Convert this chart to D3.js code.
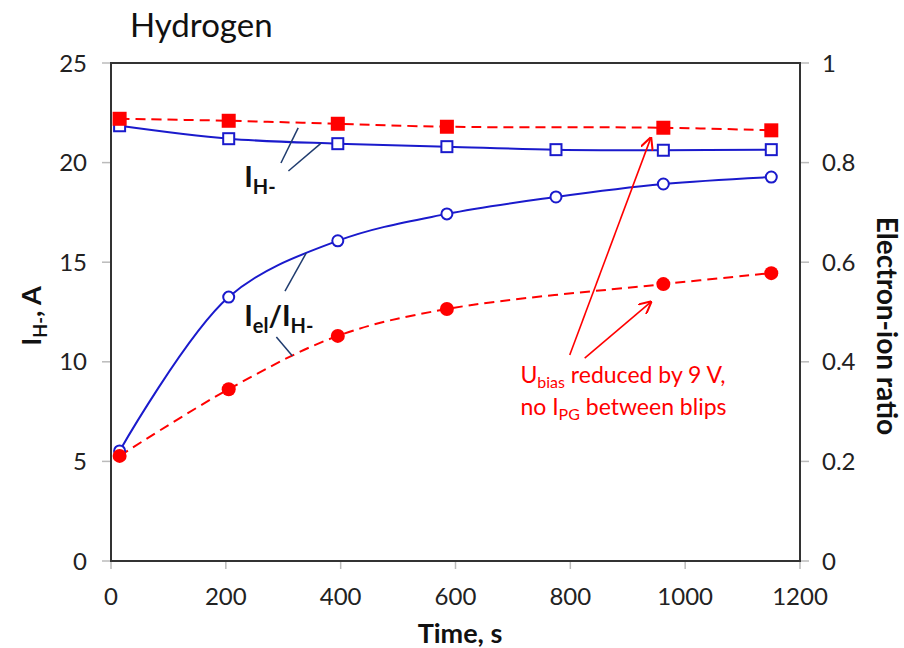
<!DOCTYPE html>
<html>
<head>
<meta charset="utf-8">
<script src="https://cdn.jsdelivr.net/npm/d3@7"></script>
<style>
  body { margin: 0; background: #fff; }
  text { font-family: Lato, "Open Sans", sans-serif; }
</style>
</head>
<body>
<svg id="chart" width="904" height="648"></svg>
<script>
// Hydrogen: ion current and electron-ion ratio vs time
const timesAll = [15, 205, 395, 585, 775, 962, 1150];
const timesBlip = [15, 205, 395, 585, 962, 1150];

// left axis (A)
const ionCurrent = [21.85, 21.2, 20.95, 20.8, 20.65, 20.62, 20.65];
const ionCurrentBias = [22.2, 22.1, 21.95, 21.8, 21.75, 21.62];
// right axis (ratio)
const elRatio = [0.221, 0.53, 0.643, 0.697, 0.731, 0.757, 0.771];
const elRatioBias = [0.211, 0.345, 0.452, 0.506, 0.556, 0.578];

const xTicks = [0, 200, 400, 600, 800, 1000, 1200];
const yLeftTicks = [0, 5, 10, 15, 20, 25];
const yRightTicks = [0, 0.2, 0.4, 0.6, 0.8, 1];

const svg = d3.select('#chart');
const m = { left: 111, right: 800, top: 63, bottom: 561 };

const x = d3.scaleLinear().domain([0, 1200]).range([m.left, m.right]);
const yL = d3.scaleLinear().domain([0, 25]).range([m.bottom, m.top]);
const yR = d3.scaleLinear().domain([0, 1]).range([m.bottom, m.top]);

const BLUE = '#1a1acc';
const RED = '#ff0000';
const NAVY = '#1f3b6e';

// title
svg.append('text').attr('x', 130).attr('y', 37)
  .attr('font-size', 33).attr('fill', '#111').text('Hydrogen');

// ticks
const tickColor = '#bbb';
svg.append('g').selectAll('line').data(xTicks).join('line')
  .attr('x1', d => x(d)).attr('x2', d => x(d))
  .attr('y1', m.bottom).attr('y2', m.bottom + 8)
  .attr('stroke', tickColor).attr('stroke-width', 1.5);
svg.append('g').selectAll('line').data(yLeftTicks).join('line')
  .attr('x1', m.left - 9).attr('x2', m.left)
  .attr('y1', d => yL(d)).attr('y2', d => yL(d))
  .attr('stroke', tickColor).attr('stroke-width', 1.5);
svg.append('g').selectAll('line').data(yRightTicks).join('line')
  .attr('x1', m.right).attr('x2', m.right + 9)
  .attr('y1', d => yR(d)).attr('y2', d => yR(d))
  .attr('stroke', tickColor).attr('stroke-width', 1.5);

// tick labels
svg.append('g').selectAll('text').data(xTicks).join('text')
  .attr('x', d => x(d)).attr('y', 605)
  .attr('text-anchor', 'middle').attr('font-size', 24).attr('fill', '#222')
  .text(d => d);
svg.append('g').selectAll('text').data(yLeftTicks).join('text')
  .attr('x', 87).attr('y', d => yL(d)).attr('dy', '0.36em')
  .attr('text-anchor', 'end').attr('font-size', 24).attr('fill', '#222')
  .text(d => d);
svg.append('g').selectAll('text').data(yRightTicks).join('text')
  .attr('x', 822).attr('y', d => yR(d)).attr('dy', '0.36em')
  .attr('text-anchor', 'start').attr('font-size', 24).attr('fill', '#222')
  .text(d => d);

// plot frame
svg.append('rect')
  .attr('x', m.left).attr('y', m.top)
  .attr('width', m.right - m.left).attr('height', m.bottom - m.top)
  .attr('fill', 'none').attr('stroke', '#333').attr('stroke-width', 2);

// axis titles
svg.append('text').attr('x', 460).attr('y', 643)
  .attr('text-anchor', 'middle').attr('font-size', 27).attr('font-weight', 'bold')
  .attr('fill', '#111').text('Time, s');

const yl = svg.append('text')
  .attr('transform', 'translate(41,316) rotate(-90)')
  .attr('text-anchor', 'middle').attr('font-size', 27).attr('font-weight', 'bold')
  .attr('fill', '#111');
yl.append('tspan').text('I');
yl.append('tspan').attr('font-size', 18).attr('dy', 6).text('H-');
yl.append('tspan').attr('dy', -6).text(', A');

svg.append('text')
  .attr('transform', 'translate(877,326) rotate(90)')
  .attr('text-anchor', 'middle').attr('font-size', 28).attr('font-weight', 'bold')
  .attr('fill', '#111').text('Electron-ion ratio');

// lines
const lineL = d3.line().x(d => x(d[0])).y(d => yL(d[1])).curve(d3.curveCatmullRom.alpha(0.5));
const lineR = d3.line().x(d => x(d[0])).y(d => yR(d[1])).curve(d3.curveCatmullRom.alpha(0.5));

const ionPts = d3.zip(timesAll, ionCurrent);
const ionBiasPts = d3.zip(timesBlip, ionCurrentBias);
const ratioPts = d3.zip(timesAll, elRatio);
const ratioBiasPts = d3.zip(timesBlip, elRatioBias);

svg.append('path').attr('d', lineL(ionPts))
  .attr('fill', 'none').attr('stroke', BLUE).attr('stroke-width', 2);
svg.append('path').attr('d', lineR(ratioPts))
  .attr('fill', 'none').attr('stroke', BLUE).attr('stroke-width', 2);
svg.append('path').attr('d', lineL(ionBiasPts))
  .attr('fill', 'none').attr('stroke', RED).attr('stroke-width', 2).attr('stroke-dasharray', '10,6');
svg.append('path').attr('d', lineR(ratioBiasPts))
  .attr('fill', 'none').attr('stroke', RED).attr('stroke-width', 2).attr('stroke-dasharray', '10,6');

// markers
svg.append('g').selectAll('rect').data(ionPts).join('rect')
  .attr('x', d => x(d[0]) - 5.5).attr('y', d => yL(d[1]) - 5.5)
  .attr('width', 11).attr('height', 11)
  .attr('fill', 'white').attr('stroke', BLUE).attr('stroke-width', 2);
svg.append('g').selectAll('circle').data(ratioPts).join('circle')
  .attr('cx', d => x(d[0])).attr('cy', d => yR(d[1])).attr('r', 5.5)
  .attr('fill', 'white').attr('stroke', BLUE).attr('stroke-width', 2);
svg.append('g').selectAll('rect').data(ionBiasPts).join('rect')
  .attr('x', d => x(d[0]) - 7).attr('y', d => yL(d[1]) - 7)
  .attr('width', 14).attr('height', 14).attr('fill', RED);
svg.append('g').selectAll('circle').data(ratioBiasPts).join('circle')
  .attr('cx', d => x(d[0])).attr('cy', d => yR(d[1])).attr('r', 7)
  .attr('fill', RED);

// leader lines for series labels (data coords, left axis)
const leaders = [
  [[296, 19.98], [326, 21.74]],
  [[309, 19.58], [366, 20.98]],
  [[303, 13.55], [340, 15.46]],
  [[288, 11.24], [316, 10.29]]
];
svg.append('g').selectAll('line').data(leaders).join('line')
  .attr('x1', d => x(d[0][0])).attr('y1', d => yL(d[0][1]))
  .attr('x2', d => x(d[1][0])).attr('y2', d => yL(d[1][1]))
  .attr('stroke', NAVY).attr('stroke-width', 1.5);

const lab1 = svg.append('text').attr('x', x(232)).attr('y', yL(18.8))
  .attr('font-size', 29).attr('font-weight', 'bold').attr('fill', '#111');
lab1.append('tspan').text('I');
lab1.append('tspan').attr('font-size', 20).attr('dy', 7).text('H-');

const lab2 = svg.append('text').attr('x', x(232)).attr('y', yL(11.8))
  .attr('font-size', 29).attr('font-weight', 'bold').attr('fill', '#111');
lab2.append('tspan').text('I');
lab2.append('tspan').attr('font-size', 20).attr('dy', 7).text('el');
lab2.append('tspan').attr('dy', -7).text('/I');
lab2.append('tspan').attr('font-size', 20).attr('dy', 7).text('H-');

// red arrows
svg.append('defs').append('marker')
  .attr('id', 'arr').attr('viewBox', '0 0 10 10').attr('refX', 9).attr('refY', 5)
  .attr('markerWidth', 8).attr('markerHeight', 8).attr('orient', 'auto')
  .append('path').attr('d', 'M0,0 L10,5 L0,10').attr('fill', 'none')
  .attr('stroke', RED).attr('stroke-width', 1.6);

const arrows = [
  [[799, 10.34], [940, 21.23]],
  [[825, 10.19], [940, 13.0]]
];
svg.append('g').selectAll('line').data(arrows).join('line')
  .attr('x1', d => x(d[0][0])).attr('y1', d => yL(d[0][1]))
  .attr('x2', d => x(d[1][0])).attr('y2', d => yL(d[1][1]))
  .attr('stroke', RED).attr('stroke-width', 1.6).attr('marker-end', 'url(#arr)');

const note1 = svg.append('text').attr('x', x(713)).attr('y', yL(8.94))
  .attr('font-size', 23).attr('fill', RED);
note1.append('tspan').text('U');
note1.append('tspan').attr('font-size', 16).attr('dy', 5).text('bias');
note1.append('tspan').attr('dy', -5).text(' reduced by 9 V,');

const note2 = svg.append('text').attr('x', x(713)).attr('y', yL(7.33))
  .attr('font-size', 23).attr('fill', RED);
note2.append('tspan').text('no I');
note2.append('tspan').attr('font-size', 16).attr('dy', 5).text('PG');
note2.append('tspan').attr('dy', -5).text(' between blips');
</script>
</body>
</html>
